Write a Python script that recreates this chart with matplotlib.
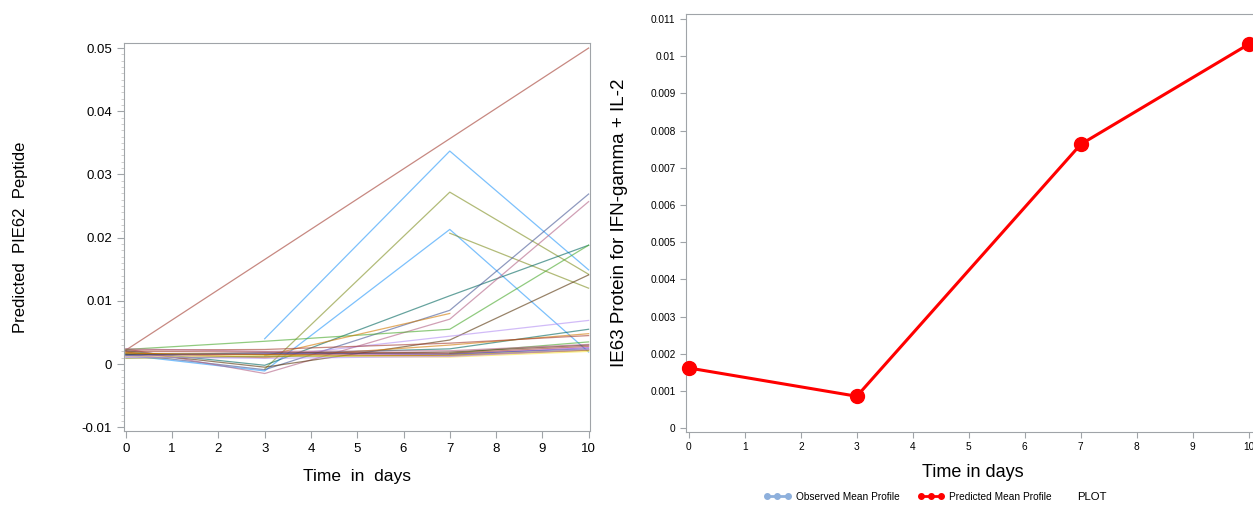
import numpy as np
import matplotlib
matplotlib.use("Agg")
import matplotlib.pyplot as plt
from matplotlib.lines import Line2D
from matplotlib.ticker import MultipleLocator, FormatStrFormatter

plt.rcParams['font.family'] = ['Liberation Sans', 'DejaVu Sans']
plt.rcParams['axes.unicode_minus'] = False

nan = np.nan

# Time points (days)
times = [0, 3, 7, 10]

# Predicted PIE62 peptide profiles, one row per subject (nan = not measured)
subject_profiles = [
    [0.0022, nan, nan, 0.0500],
    [nan, 0.0040, 0.0337, 0.0149],
    [nan, -0.0008, 0.0272, 0.0142],
    [0.0014, -0.0011, 0.0213, 0.0019],
    [nan, nan, 0.0207, 0.0120],
    [0.0021, -0.0002, 0.0108, 0.0188],
    [0.0016, -0.0009, 0.0085, 0.0269],
    [0.0024, -0.0015, 0.0071, 0.0257],
    [0.0023, 0.0036, 0.0055, 0.0188],
    [0.0019, -0.0005, 0.0038, 0.0141],
    [nan, 0.0013, 0.0080, nan],
    [0.0011, 0.0011, 0.0044, 0.0069],
    [0.0016, 0.0016, 0.0024, 0.0055],
    [0.0018, 0.0010, 0.0030, 0.0048],
    [0.0022, 0.0023, 0.0033, 0.0045],
    [nan, nan, 0.0017, 0.0035],
    [0.0015, 0.0015, 0.0019, 0.0030],
    [0.0013, 0.0016, 0.0015, 0.0026],
    [0.0014, 0.0018, 0.0016, 0.0024],
    [0.0012, 0.0013, 0.0011, 0.0020],
    [0.0020, 0.0019, 0.0017, 0.0028],
    [0.0024, 0.0020, 0.0021, 0.0031],
    [0.0009, 0.0012, 0.0014, 0.0022],
    [0.0017, 0.0015, 0.0013, 0.0022],
    [0.0011, 0.0009, 0.0012, 0.0023],
]
subject_colors = [
    '#A23A2E', '#2597FA', '#7F8E1F', '#2597FA', '#7F8E1F', '#01665E', '#445694',
    '#B26084', '#47A82A', '#543005', '#D17800', '#B38EF3', '#01665E', '#D17800',
    '#A23A2E', '#47A82A', '#543005', '#9D3CDB', '#445694', '#F9E03C', '#A23A2E',
    '#B26084', '#7F8E1F', '#D17800', '#B38EF3',
]

# Predicted mean profile for IE63 protein
mean_profile = [0.00162, 0.00086, 0.00763, 0.01032]

W, H = 1253, 505
fig = plt.figure(figsize=(W / 100, H / 100), dpi=100)

spine_col = '#a0a4a8'

# ---- left panel: individual profiles
ax1 = fig.add_axes([124 / W, 1 - 431 / H, (590 - 124) / W, (431 - 43) / H])
t = np.array(times)
for prof, col in zip(subject_profiles, subject_colors):
    y = np.array(prof, dtype=float)
    ok = ~np.isnan(y)
    ax1.plot(t[ok], y[ok], color=col, alpha=0.6, lw=0.9)

ax1.set_xlim(-0.04, 10.03)
ax1.set_ylim(-0.0106, 0.0508)
ax1.set_xticks(range(0, 11))
ax1.yaxis.set_major_locator(MultipleLocator(0.01))
ax1.yaxis.set_minor_locator(MultipleLocator(0.001))
ax1.yaxis.set_major_formatter(FormatStrFormatter('%g'))
ax1.tick_params(labelsize=9.5, color=spine_col, length=5)
ax1.tick_params(which='minor', color='#c8c8c8', length=2.5)
for s in ax1.spines.values():
    s.set_color(spine_col)
ax1.set_xlabel('Time  in  days', fontsize=12.5, labelpad=10)
ax1.set_ylabel('Predicted  PIE62  Peptide', fontsize=12, labelpad=39)

# ---- right panel: mean profile
ax2 = fig.add_axes([686 / W, 1 - 432 / H, (1260 - 686) / W, (432 - 14) / H])
ax2.plot(times, mean_profile, color='#ff0000', lw=2.2, marker='o',
         markersize=10, clip_on=False, zorder=3)
ax2.set_xlim(-0.05, 10.2)
ax2.set_ylim(-0.0001, 0.01113)
ax2.set_xticks(range(0, 11))
ax2.yaxis.set_major_locator(MultipleLocator(0.001))
ax2.yaxis.set_major_formatter(FormatStrFormatter('%g'))
ax2.tick_params(labelsize=7.3, color=spine_col, length=4)
for s in ax2.spines.values():
    s.set_color(spine_col)
ax2.set_xlabel('Time in days', fontsize=13, labelpad=8)
ax2.set_ylabel('IE63 Protein for IFN-gamma + IL-2', fontsize=13.5, labelpad=16)

# ---- legend at bottom
handles = [
    Line2D([], [], color='#8eb0dc', lw=2, marker='o', markersize=4),
    Line2D([], [], color='#ff0000', lw=2, marker='o', markersize=4),
]
fig.legend(handles, ['Observed Mean Profile', 'Predicted Mean Profile'],
           loc='center', bbox_to_anchor=(908 / W, 1 - 497 / H), ncol=2,
           numpoints=3, frameon=False, fontsize=7.3, handlelength=2.6,
           handletextpad=0.5, columnspacing=1.8)
fig.text(1077 / W, 1 - 497 / H, 'PLOT', fontsize=8.2, va='center', ha='left')

fig.savefig('out.png', dpi=100)
